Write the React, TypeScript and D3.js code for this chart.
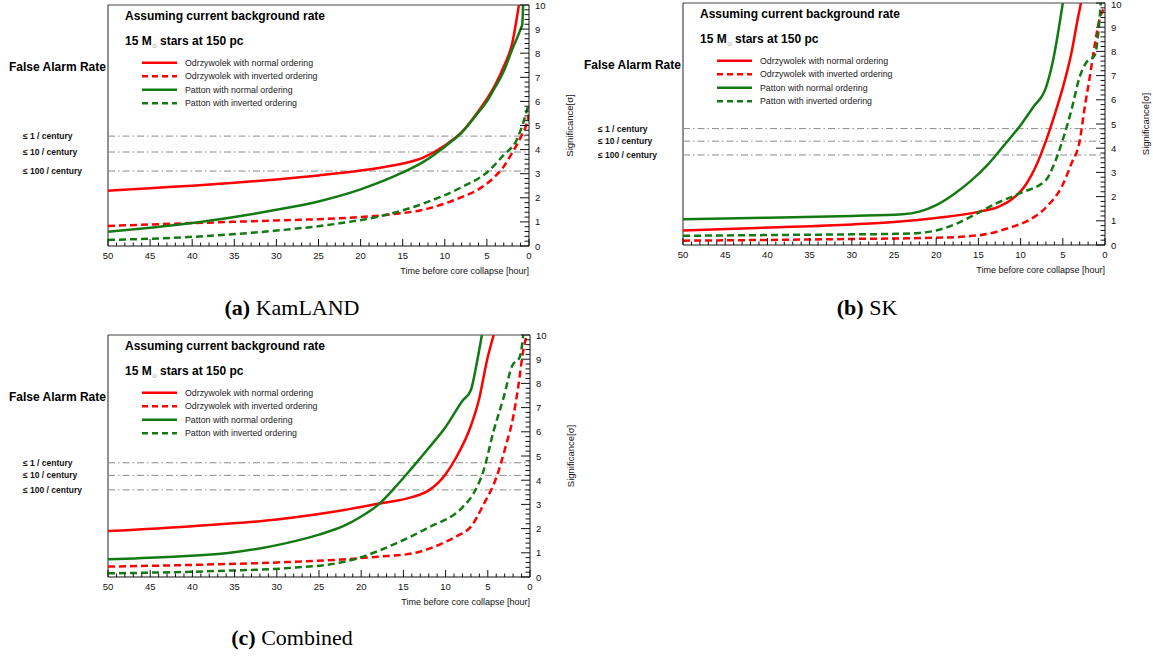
import * as d3 from "d3";

const RED = "#ff0000";
const GREEN = "#137a13";
const SANS = "'Liberation Sans', Arial, Helvetica, sans-serif";
const SERIF = "'Liberation Serif', 'Times New Roman', serif";

// ==== DATA (hours before collapse, significance) ====

// (a) KamLAND
const KL_ODR_NORMAL: [number, number][] = [
  [50, 2.29], [45, 2.4], [40, 2.5], [35, 2.62], [30, 2.76], [25, 2.93], [20, 3.13],
  [17.5, 3.26], [15, 3.42], [12.5, 3.68], [10, 4.17], [8, 4.72], [6, 5.6], [5, 6.1],
  [4, 6.7], [3, 7.45], [2, 8.4], [1.2, 10],
];
const KL_ODR_INVERTED: [number, number][] = [
  [50, 0.83], [40, 0.95], [30, 1.06], [22.5, 1.15], [17, 1.29], [12, 1.55], [8, 2.03],
  [6, 2.35], [4, 2.9], [3, 3.3], [2.2, 3.75], [1, 4.5], [0.3, 5.05], [0, 5.45],
];
const KL_PAT_NORMAL: [number, number][] = [
  [50, 0.59], [45, 0.76], [40, 0.95], [35, 1.2], [30, 1.5], [25, 1.85], [20, 2.35],
  [15, 3.05], [12.5, 3.5], [10, 4.12], [8, 4.7], [6, 5.55], [5, 6.0], [4, 6.6],
  [3, 7.25], [2, 8.15], [1, 9.0], [0.8, 9.2], [0.7, 10],
];
const KL_PAT_INVERTED: [number, number][] = [
  [50, 0.25], [40, 0.38], [30, 0.64], [22.5, 0.94], [17.5, 1.25], [12.5, 1.77], [8, 2.44],
  [5, 3.05], [3, 3.78], [1.5, 4.38], [0.7, 5.1], [0, 5.95],
];
const KL_FAR = [4.56, 3.9, 3.11];

// (b) SK
const SK_ODR_NORMAL: [number, number][] = [
  [50, 0.6], [40, 0.72], [30, 0.85], [25, 0.95], [20, 1.12], [15, 1.37], [12.5, 1.6],
  [11, 1.9], [9.7, 2.34], [8, 3.4], [7, 4.3], [6, 5.35], [5, 6.5], [4, 7.9], [3.2, 9.4],
  [2.85, 10],
];
const SK_ODR_INVERTED: [number, number][] = [
  [50, 0.18], [40, 0.21], [30, 0.25], [20, 0.3], [15, 0.4], [11, 0.75], [9, 1.03],
  [7, 1.55], [5, 2.5], [4, 3.35], [3, 4.3], [2.4, 5.7], [1.8, 6.95], [1.2, 8.3],
  [0.6, 9.4], [0, 9.8],
];
const SK_PAT_NORMAL: [number, number][] = [
  [50, 1.06], [40, 1.13], [30, 1.2], [24, 1.27], [22, 1.38], [20, 1.65], [18, 2.08],
  [16, 2.62], [14, 3.28], [12, 4.1], [10, 4.95], [8.5, 5.7], [7, 6.5], [6.2, 7.55],
  [5, 10],
];
const SK_PAT_INVERTED: [number, number][] = [
  [50, 0.38], [40, 0.41], [30, 0.44], [25, 0.46], [22, 0.5], [20, 0.6], [18, 0.82],
  [16, 1.15], [13, 1.7], [10, 2.15], [7, 2.68], [6.2, 3.2], [5, 4.35], [4, 5.55],
  [3, 6.95], [2.2, 7.55], [1.2, 7.85], [0.8, 8.75], [0.5, 10],
];
const SK_FAR = [4.81, 4.29, 3.72];

// (c) Combined
const CB_ODR_NORMAL: [number, number][] = [
  [50, 1.9], [40, 2.1], [30, 2.38], [22, 2.77], [18, 3.03], [14, 3.3], [12, 3.58],
  [10, 4.25], [8.7, 4.97], [7, 6.25], [6, 7.4], [5.1, 8.95], [4.3, 10],
];
const CB_ODR_INVERTED: [number, number][] = [
  [50, 0.43], [40, 0.5], [30, 0.6], [22, 0.73], [18, 0.84], [14, 0.97], [10, 1.45],
  [8.5, 1.72], [7, 2.08], [5.5, 3.0], [4, 4.1], [2.8, 5.5], [2, 6.6], [1.4, 7.85],
  [0.8, 9.35], [0.4, 10],
];
const CB_PAT_NORMAL: [number, number][] = [
  [50, 0.73], [43, 0.83], [36, 0.98], [29, 1.39], [25, 1.75], [22, 2.12], [20, 2.5],
  [18, 2.98], [16, 3.7], [14, 4.5], [12, 5.33], [10, 6.2], [8, 7.28], [7, 7.73],
  [6.3, 8.85], [5.7, 10],
];
const CB_PAT_INVERTED: [number, number][] = [
  [50, 0.15], [36, 0.26], [29, 0.36], [22, 0.63], [20, 0.82], [16, 1.37], [12, 2.05],
  [8, 2.88], [6.7, 3.45], [5.5, 4.4], [4.3, 6.05], [3.1, 7.45], [2.15, 8.7], [1.2, 9.1],
  [0.8, 10],
];
const CB_FAR = [4.72, 4.2, 3.6];

const LEGEND_LABELS = [
  "Odrzywolek with normal ordering",
  "Odrzywolek with inverted ordering",
  "Patton with normal ordering",
  "Patton with inverted ordering",
];
const FAR_LABELS = ["≤ 1 / century", "≤ 10 / century", "≤ 100 / century"];
const X_TICKS = d3.range(0, 51, 5);
const Y_TICKS = d3.range(0, 11, 1);

type Box = { left: number; top: number; right: number; bottom: number };

const STYLES = [
  { color: RED, dash: null },
  { color: RED, dash: "7 4" },
  { color: GREEN, dash: null },
  { color: GREEN, dash: "7 4" },
];

function Panel({ id, box, series, far }: { id: string; box: Box; series: [number, number][][]; far: number[] }) {
  const x = d3.scaleLinear().domain([50, 0]).range([box.left, box.right]);
  const y = d3.scaleLinear().domain([0, 10]).range([box.bottom, box.top]);
  const line = d3
    .line<[number, number]>()
    .x((d) => x(d[0]))
    .y((d) => y(d[1]))
    .curve(d3.curveMonotoneX);

  const xMinor = d3.range(0, 51, 1).filter((v) => v % 5 !== 0);
  const yMinor = d3.range(0, 10.01, 0.2).filter((v) => Math.abs(v - Math.round(v)) > 0.01);
  const L = box.left;
  const T = box.top;

  return (
    <g>
      <defs>
        <clipPath id={`clip-${id}`}>
          <rect x={box.left} y={box.top} width={box.right - box.left} height={box.bottom - box.top} />
        </clipPath>
      </defs>

      {/* frame */}
      <line x1={box.left} x2={box.right} y1={box.top} y2={box.top} stroke="#444" strokeWidth={1} />
      <line x1={box.left} x2={box.left} y1={box.top} y2={box.bottom} stroke="#222" strokeWidth={1} />

      {/* false alarm levels */}
      {far.map((v, i) => (
        <g key={i}>
          <line x1={box.left} x2={box.right} y1={y(v)} y2={y(v)} stroke="#8a8a8a" strokeWidth={1} strokeDasharray="7 3 1.5 3" />
          <text x={L - 85} y={y(v) + 3} fontFamily={SANS} fontSize={8.5} fontWeight="bold" fill="#111">
            {FAR_LABELS[i]}
          </text>
        </g>
      ))}

      {/* curves */}
      <g clipPath={`url(#clip-${id})`}>
        {series.map((s, i) => (
          <path
            key={i}
            d={line(s) ?? ""}
            fill="none"
            stroke={STYLES[i].color}
            strokeWidth={2.5}
            strokeDasharray={STYLES[i].dash ?? undefined}
          />
        ))}
      </g>

      {/* x axis */}
      <line x1={box.left} x2={box.right} y1={box.bottom} y2={box.bottom} stroke="#111" strokeWidth={1} />
      {X_TICKS.map((t) => (
        <g key={t}>
          <line x1={x(t)} x2={x(t)} y1={box.bottom} y2={box.bottom - 7} stroke="#111" />
          <text x={x(t)} y={box.bottom + 13} textAnchor="middle" fontFamily={SANS} fontSize={9.5} fill="#111">
            {t}
          </text>
        </g>
      ))}
      {xMinor.map((t) => (
        <line key={t} x1={x(t)} x2={x(t)} y1={box.bottom} y2={box.bottom - 3.5} stroke="#111" />
      ))}
      <text x={box.right} y={box.bottom + 28} textAnchor="end" fontFamily={SANS} fontSize={9} fill="#111">
        Time before core collapse [hour]
      </text>

      {/* y axis (right) */}
      <line x1={box.right} x2={box.right} y1={box.top} y2={box.bottom} stroke="#111" strokeWidth={1} />
      {Y_TICKS.map((v) => (
        <g key={v}>
          <line x1={box.right} x2={box.right - 9} y1={y(v)} y2={y(v)} stroke="#111" />
          <text x={box.right + 6} y={Math.max(y(v) + 3.5, 8)} fontFamily={SANS} fontSize={9.5} fill="#111">
            {v}
          </text>
        </g>
      ))}
      {yMinor.map((v) => (
        <line key={v} x1={box.right} x2={box.right - 4.5} y1={y(v)} y2={y(v)} stroke="#111" />
      ))}
      <text
        transform={`translate(${box.right + 44},${(box.top + box.bottom) / 2}) rotate(-90)`}
        textAnchor="middle"
        fontFamily={SANS}
        fontSize={9.5}
        fill="#111"
      >
        Significance[σ]
      </text>

      {/* headings */}
      <text x={L + 17} y={T + 15} fontFamily={SANS} fontSize={12} fontWeight="bold" fill="#000">
        Assuming current background rate
      </text>
      <text x={L + 17} y={T + 40} fontFamily={SANS} fontSize={12} fontWeight="bold" fill="#000">
        15 M
        <tspan fontSize={6} fontWeight="normal" fill="#999" dy={3}>⊙</tspan>
        <tspan dy={-3}> stars at 150 pc</tspan>
      </text>
      <text x={L - 99} y={T + 66} fontFamily={SANS} fontSize={12} fontWeight="bold" fill="#000">
        False Alarm Rate
      </text>

      {/* legend */}
      {LEGEND_LABELS.map((lab, i) => {
        const ly = T + 57.7 + i * 13.5;
        return (
          <g key={lab}>
            <line
              x1={L + 34}
              x2={L + 69}
              y1={ly}
              y2={ly}
              stroke={STYLES[i].color}
              strokeWidth={2.5}
              strokeDasharray={STYLES[i].dash ? "6 4" : undefined}
            />
            <text x={L + 77} y={ly + 3} fontFamily={SANS} fontSize={8.8} fill="#222">
              {lab}
            </text>
          </g>
        );
      })}
    </g>
  );
}

function Caption({ cx, y, tag, name }: { cx: number; y: number; tag: string; name: string }) {
  return (
    <text x={cx} y={y} textAnchor="middle" fontFamily={SERIF} fontSize={22} fill="#000">
      <tspan fontWeight="bold">({tag})</tspan> {name}
    </text>
  );
}

export default function App() {
  return (
    <svg
      width={1153}
      height={657}
      style={{ position: "absolute", left: 0, top: 0, background: "#fff" }}
    >
      <Panel
        id="a"
        box={{ left: 108, top: 5, right: 529, bottom: 246 }}
        series={[KL_ODR_NORMAL, KL_ODR_INVERTED, KL_PAT_NORMAL, KL_PAT_INVERTED]}
        far={KL_FAR}
      />
      <Panel
        id="b"
        box={{ left: 683, top: 3, right: 1105, bottom: 245 }}
        series={[SK_ODR_NORMAL, SK_ODR_INVERTED, SK_PAT_NORMAL, SK_PAT_INVERTED]}
        far={SK_FAR}
      />
      <Panel
        id="c"
        box={{ left: 108, top: 335, right: 530, bottom: 577 }}
        series={[CB_ODR_NORMAL, CB_ODR_INVERTED, CB_PAT_NORMAL, CB_PAT_INVERTED]}
        far={CB_FAR}
      />
      <Caption cx={292} y={315} tag="a" name="KamLAND" />
      <Caption cx={867} y={315} tag="b" name="SK" />
      <Caption cx={292} y={645} tag="c" name="Combined" />
    </svg>
  );
}
